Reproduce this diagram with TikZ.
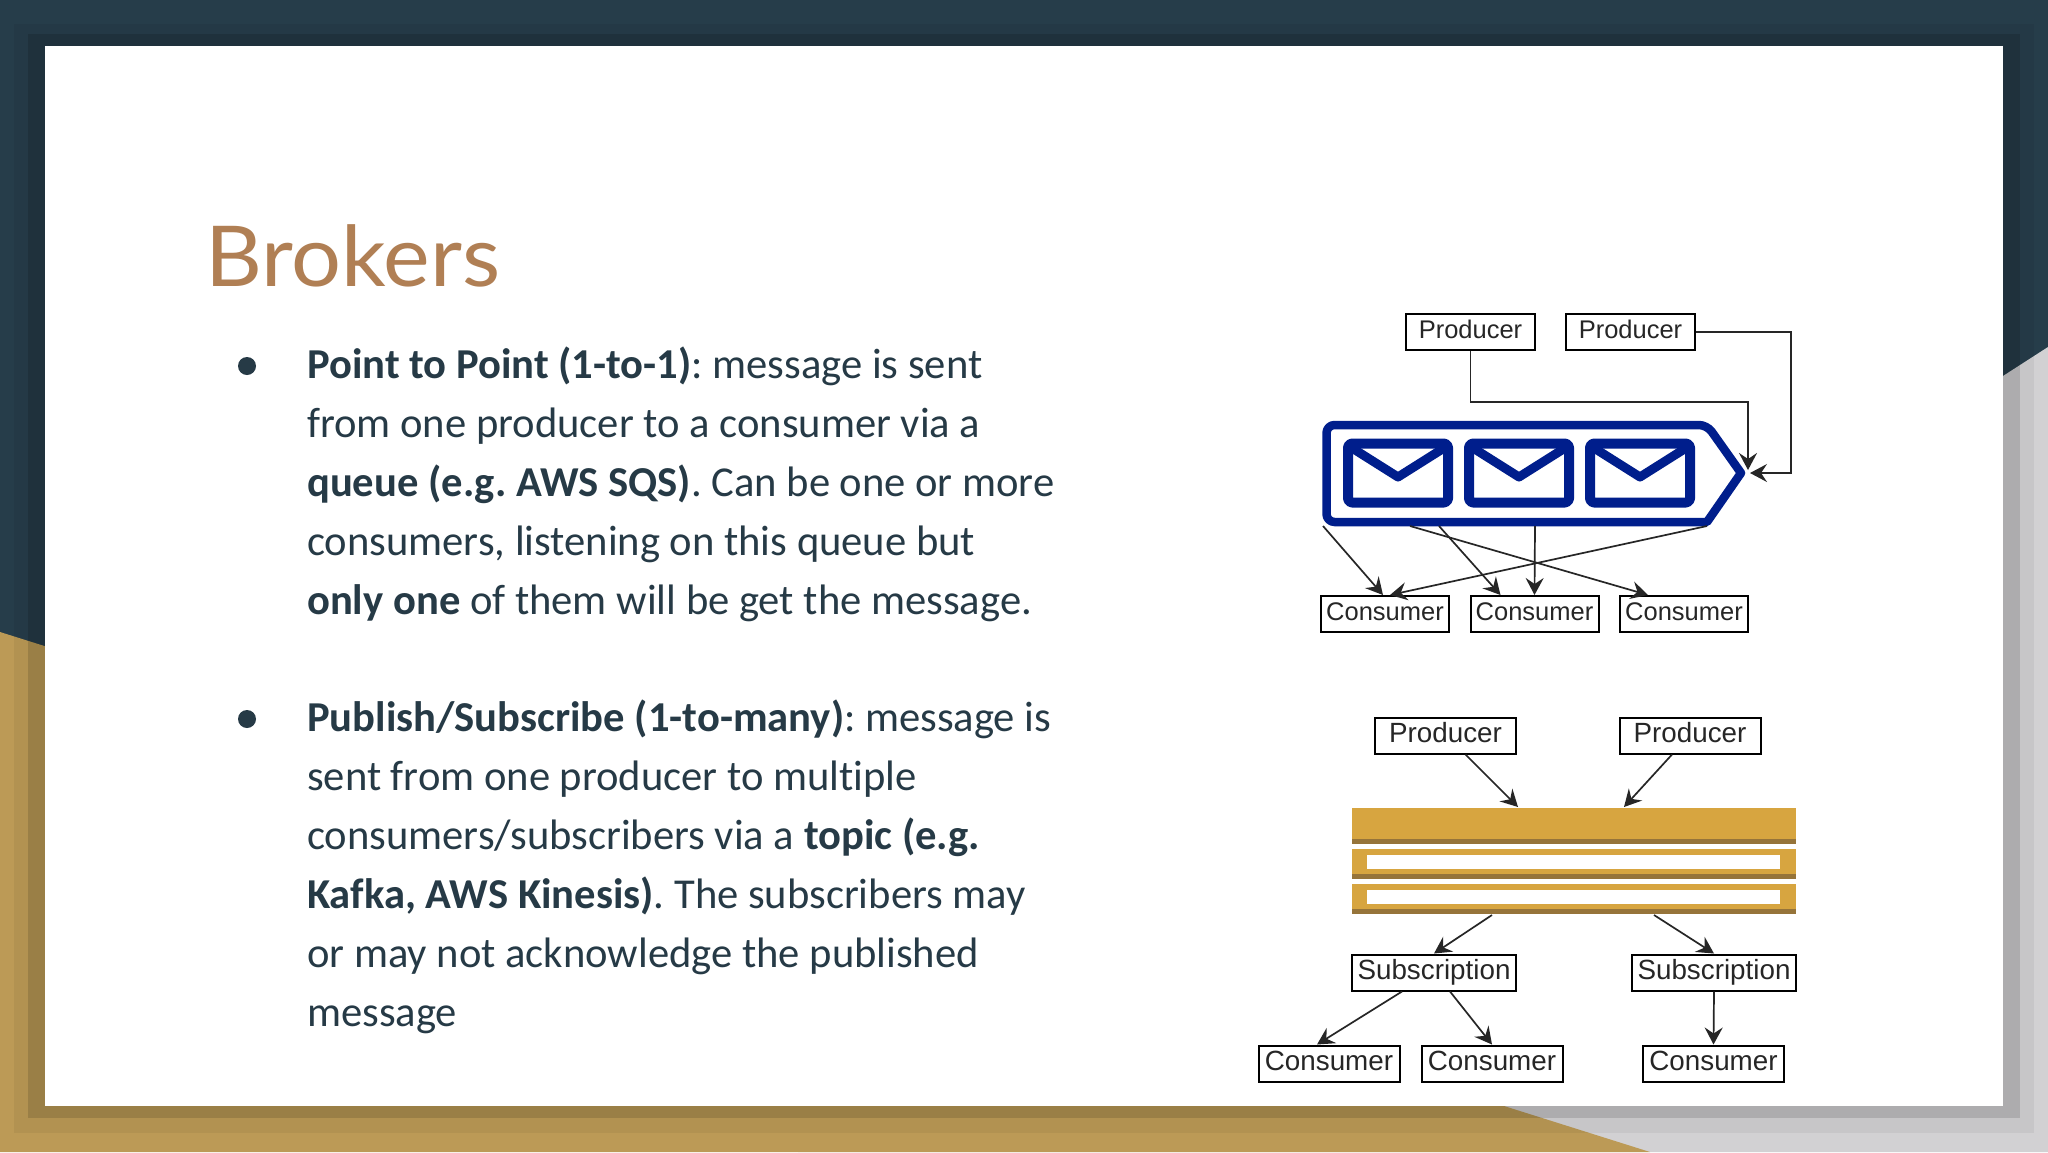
\documentclass[tikz,border=0pt]{standalone}
\usepackage{fontspec}
\setmainfont[Ligatures=NoCommon]{Carlito}
\newfontfamily\titlefont[FakeStretch=1.05]{Lato}
\newfontfamily\boxfont{Liberation Sans}
\usetikzlibrary{arrows.meta,positioning}
\definecolor{navybg}{HTML}{263D4A}
\definecolor{goldbg}{HTML}{BC9A56}
\definecolor{greybg}{HTML}{D2D1D3}
\definecolor{textcol}{HTML}{263A46}
\definecolor{titlecol}{HTML}{B07F54}
\definecolor{queueblue}{HTML}{001E8C}
\definecolor{barfill}{HTML}{D7A540}
\definecolor{bardk}{HTML}{96743A}
\tikzset{
  boxnode/.style={draw=black,line width=2pt,fill=white,inner sep=0pt,minimum height=36pt,text=black!85},
  smallbox/.style={boxnode,minimum width=128pt,text height=19pt,text depth=6pt,font=\boxfont\fontsize{25.5}{25.5}\selectfont},
  bigbox/.style={boxnode,minimum width=141pt,text height=20pt,text depth=7pt,font=\boxfont\fontsize{27.8}{27.8}\selectfont},
  arr/.style={-{Stealth[length=17pt,width=18pt,inset=6pt]},line width=1.7pt,black!85},
  para/.style={anchor=base west,inner sep=0pt,text=textcol,font=\fontsize{42.6}{42.6}\selectfont\frenchspacing},
  envelope/.style={draw=queueblue,line width=10pt,line join=round,fill=white}
}
\begin{document}
\begin{tikzpicture}[x=1pt,y=-1pt]
  \useasboundingbox (0,0) rectangle (2048,1152);
  %slide background
  \fill[navybg] (0,0) rectangle (2048,1152);
  \fill[greybg] (2048,347) -- (2048,1152) -- (798,1152) -- cycle;
  \fill[goldbg] (0,632) -- (1650,1152) -- (0,1152) -- cycle;
  %shadow bands of the sheet
  \fill[black,opacity=0.05] (14,24) rectangle (2034,1133);
  \fill[black,opacity=0.13] (28,34) rectangle (2020,1118);
  \fill[white] (45,46) rectangle (2003,1106);

  %title
  \node[anchor=base west,inner sep=0pt,text=titlecol,font=\titlefont\fontsize{84}{84}\selectfont] (title) at (205,286) {Brokers};

  %first bullet
  \fill[textcol] (247,366) circle (9pt);
  \node[para] (pa) at (307,378.5) {\textbf{Point to Point (1-to-1)}: message is sent};
  \node[para] (pb) at (307,437.5) {from one producer to a consumer via a};
  \node[para] (pc) at (307,496.5) {\textbf{queue (e.g. AWS SQS)}. Can be one or more};
  \node[para] (pd) at (307,555.5) {consumers, listening on this queue but};
  \node[para] (pe) at (307,614.5) {\textbf{only one} of them will be get the message.};

  %second bullet
  \fill[textcol] (247,719) circle (9pt);
  \node[para] (sa) at (307,731.5) {\textbf{Publish/Subscribe (1-to-many)}: message is};
  \node[para] (sb) at (307,790.5) {sent from one producer to multiple};
  \node[para] (sc) at (307,849.5) {consumers/subscribers via a \textbf{topic (e.g.}};
  \node[para] (sd) at (307,908.5) {\textbf{Kafka, AWS Kinesis)}. The subscribers may};
  \node[para] (se) at (307,967.5) {or may not acknowledge the published};
  \node[para] (sf) at (307,1026.5) {message};

  %queue
  \draw[queueblue,line width=8.5pt,line join=round,rounded corners=8pt] (1326.5,425) -- (1707,425) [sharp corners] -- (1741,473) -- (1707,522) [rounded corners=8pt] -- (1326.5,522) -- cycle;
  \foreach \x in {1348,1469,1590} {
    \draw[envelope,rounded corners=4pt] (\x,443.5) rectangle ++(100,59);
    \draw[queueblue,line width=9pt,line join=round] (\x+4,448) -- (\x+50,477) -- (\x+96,448);
  }
  \coordinate (qa) at (1323,526);
  \coordinate (qb) at (1410,526);
  \coordinate (qc) at (1439,526);
  \coordinate (qd) at (1535,526);
  \coordinate (qe) at (1707,526);
  \coordinate (qtop) at (1748,470);
  \coordinate (qtip) at (1750,473);

  %point to point boxes
  \node[smallbox,minimum width=129pt] (prodA) at (1470.5,332) {Producer};
  \node[smallbox,minimum width=129pt] (prodB) at (1630.5,332) {Producer};
  \node[smallbox] (consA) at (1385,614) {Consumer};
  \node[smallbox] (consB) at (1534.5,614) {Consumer};
  \node[smallbox] (consC) at (1684,614) {Consumer};

  \draw[arr] (prodA.south) |- (1748,402) -- (qtop);
  \draw[arr] (prodB.east) -- (1791,332) |- (qtip);
  \draw[arr] (qa) -- ([xshift=-2pt]consA.north);
  \draw[arr] (qe) -- ([xshift=5pt]consA.north);
  \draw[arr] (qc) -- ([xshift=-34pt]consB.north);
  \draw[arr] (qd) -- (consB.north);
  \draw[arr] (qb) -- ([xshift=-36pt]consC.north);

  %topic bars
  \fill[barfill] (1352,808) rectangle (1796,844);
  \fill[bardk] (1352,839) rectangle (1796,844);
  \foreach \y in {849,884} {
    \fill[barfill] (1352,\y) rectangle (1796,\y+30);
    \fill[bardk] (1352,\y+25) rectangle (1796,\y+30);
    \fill[white] (1367,\y+6) rectangle (1780,\y+20);
  }
  \coordinate (ttopa) at (1518,807);
  \coordinate (ttopb) at (1624,807);
  \coordinate (tbota) at (1492,915);
  \coordinate (tbotb) at (1654,915);

  %publish subscribe boxes
  \node[bigbox] (pubA) at (1445.5,735.5) {Producer};
  \node[bigbox] (pubB) at (1690,735.5) {Producer};
  \node[bigbox,minimum width=164pt] (subA) at (1434,972.5) {Subscription};
  \node[bigbox,minimum width=164pt] (subB) at (1714,972.5) {Subscription};
  \node[bigbox] (subcA) at (1329,1063.5) {Consumer};
  \node[bigbox] (subcB) at (1492,1063.5) {Consumer};
  \node[bigbox] (subcC) at (1713.5,1063.5) {Consumer};

  \draw[arr] ([xshift=20pt]pubA.south) -- (ttopa);
  \draw[arr] ([xshift=-18pt]pubB.south) -- (ttopb);
  \draw[arr] (tbota) -- (subA.north);
  \draw[arr] (tbotb) -- (subB.north);
  \draw[arr] ([xshift=-32pt]subA.south) -- ([xshift=-12pt]subcA.north);
  \draw[arr] ([xshift=16pt]subA.south) -- (subcB.north);
  \draw[arr] (subB.south) -- (subcC.north);
\end{tikzpicture}
\end{document}
